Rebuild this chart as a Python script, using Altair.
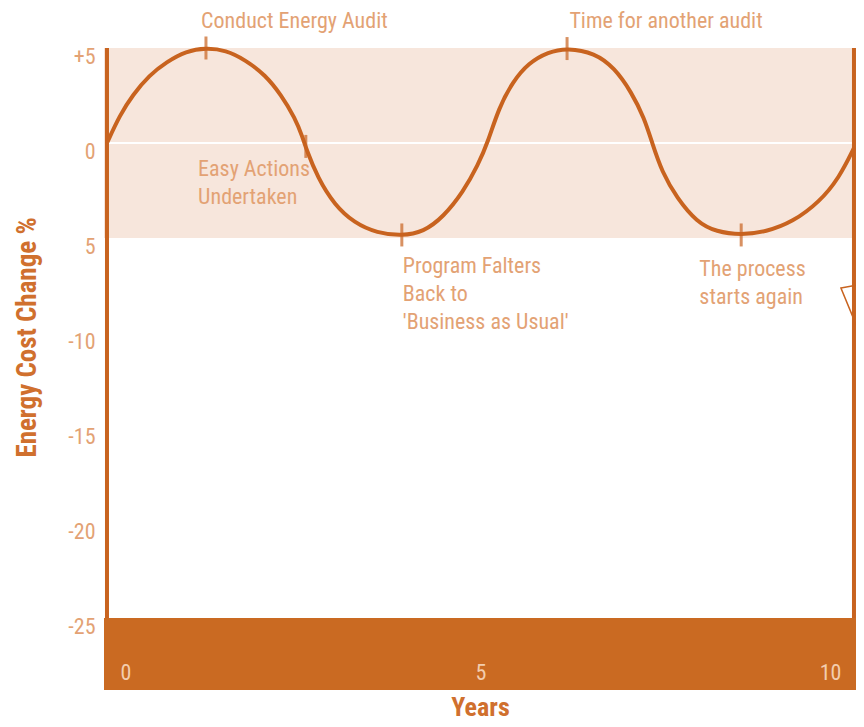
import altair as alt
import pandas as pd

# ---- data ----
curve_year = [0.0, 0.172, 0.344, 0.570, 0.795, 1.060, 1.325, 1.589, 1.854, 2.119, 2.331, 2.517,
              2.623, 2.662, 2.821, 3.046, 3.311, 3.616, 3.947, 4.238, 4.503, 4.768, 4.967, 5.099,
              5.245, 5.430, 5.642, 5.907, 6.159, 6.530, 6.795, 7.020, 7.192, 7.298, 7.430, 7.629,
              7.894, 8.159, 8.490, 8.821, 9.179, 9.536, 9.801, 10.0]
curve_value = [0.0, 1.47, 2.53, 3.58, 4.26, 4.84, 5.0, 4.89, 4.37, 3.58, 2.53, 1.32,
               0.26, -0.26, -1.84, -3.26, -4.21, -4.74, -4.89, -4.68, -3.89, -2.58, -1.16, 0.05,
               1.84, 3.21, 4.21, 4.79, 5.0, 4.74, 3.95, 2.68, 1.32, 0.0, -1.53, -2.89,
               -4.16, -4.68, -4.84, -4.68, -4.16, -3.11, -1.84, -0.26]

marker_year = [1.325, 2.662, 3.947, 6.159, 8.490]
marker_value = [5.0, -0.18, -4.84, 4.97, -4.84]

ann_text = ["Conduct Energy Audit", "Easy Actions\nUndertaken",
            "Program Falters\nBack to\n'Business as Usual'", "Time for another audit",
            "The process\nstarts again"]
ann_year = [1.26, 1.22, 3.96, 6.19, 7.93]
ann_value = [6.93, -0.86, -5.97, 6.93, -6.13]

y_ticks = [5, 0, -5, -10, -15, -20, -25]
x_ticks = [0, 5, 10]

band_range = [5, -5]          # shaded target band
floor_range = [-25, -28.79]   # solid base strip
frame_years = [0, 10]

# ---- styling ----
FONT = "Liberation Sans Narrow, Arial Narrow, Roboto Condensed, Roboto, sans-serif"
ORANGE = "#C8631F"
DARK = "#CA6A22"
BAND = "#F7E6DC"
LABEL = "#E3A274"
TITLE = "#D0702E"

XMIN, XMAX = -0.040, 10.027
xs = alt.Scale(domain=[XMIN, XMAX], nice=False, zero=False)
ys = alt.Scale(domain=[-28.79, 7.105], nice=False, zero=False)

x_axis = alt.Axis(values=x_ticks, domain=False, ticks=False, tickSize=0, grid=False,
                  labelFlush=6, labelFlushOffset=-13, offset=-18, labelPadding=0,
                  labelBaseline="middle", labelFont=FONT, labelFontSize=22,
                  labelColor="#F3CDAE", zindex=2,
                  title="Years", titleFont=FONT, titleFontSize=26, titleFontWeight="bold",
                  titleColor=TITLE, titleX=376, titleY=35, titleAlign="center",
                  titleBaseline="middle")
y_axis = alt.Axis(values=y_ticks, domain=False, ticks=False, tickSize=0, grid=False,
                  labelExpr="datum.value == 5 ? '+5' : (datum.value == -5 ? '5' : '' + datum.value)",
                  labelPadding=9, labelBaseline="middle", labelOffset=9,
                  labelFont=FONT, labelFontSize=22, labelColor=LABEL,
                  title="Energy Cost Change %", titleFont=FONT, titleFontSize=27,
                  titleFontWeight="bold", titleColor=TITLE, titleAngle=270,
                  titleX=-77, titleY=329, titleAlign="center", titleBaseline="middle")


def X(field):
    return alt.X(field, type="quantitative", scale=xs, axis=x_axis)


def Y(field):
    return alt.Y(field, type="quantitative", scale=ys, axis=y_axis)


curve_df = pd.DataFrame({"year": curve_year, "value": curve_value})
marker_df = pd.DataFrame({"year": marker_year, "value": marker_value})
ann_df = pd.DataFrame({"year": ann_year, "value": ann_value, "text": ann_text})
band_df = pd.DataFrame({"x0": [XMIN], "x1": [XMAX], "y0": [band_range[0]], "y1": [band_range[1]]})
floor_df = pd.DataFrame({"x0": [XMIN], "x1": [XMAX], "y0": [floor_range[0]], "y1": [floor_range[1]]})
zero_df = pd.DataFrame({"x0": [0.02], "x1": [9.98], "y": [0]})
frame_df = pd.DataFrame({"x": frame_years, "y0": [5, 5], "y1": [-25, -25]})
tri_df = pd.DataFrame({"x": [9.946], "y": [-8.79]})

band = alt.Chart(band_df).mark_rect(color=BAND).encode(
    x=X("x0"), x2="x1:Q", y=Y("y0"), y2="y1:Q")

zero = alt.Chart(zero_df).mark_rule(color="white", strokeWidth=2).encode(
    x=X("x0"), x2="x1:Q", y=Y("y"))

floor = alt.Chart(floor_df).mark_rect(color=DARK).encode(
    x=X("x0"), x2="x1:Q", y=Y("y0"), y2="y1:Q")

tri = alt.Chart(tri_df).mark_point(
    shape="M -0.36 -0.88 L 0.32 -1 L 0.4 0.96 Z", size=2500, filled=True,
    fill="white", stroke=ORANGE, strokeWidth=1.5, opacity=1).encode(
    x=X("x"), y=Y("y"))

frame = alt.Chart(frame_df).mark_rule(color=ORANGE, strokeWidth=4).encode(
    x=X("x"), y=Y("y0"), y2="y1:Q")

curve = alt.Chart(curve_df).mark_line(color=ORANGE, strokeWidth=4, interpolate="basis").encode(
    x=X("year"), y=Y("value"))

markers = alt.Chart(marker_df).mark_tick(color=ORANGE, orient="vertical", size=23, thickness=3).encode(
    x=X("year"), y=Y("value"))

ann = alt.Chart(ann_df).mark_text(align="left", baseline="top", lineBreak="\n", lineHeight=28,
                                  font=FONT, fontSize=22, color=LABEL).encode(
    x=X("year"), y=Y("value"), text="text:N")

chart = alt.layer(band, zero, floor, tri, frame, curve, markers, ann).properties(
    width=752, height=682,
    autosize=alt.AutoSizeParams(type="none"),
    padding={"left": 96, "top": 0, "right": 0, "bottom": 30},
    background="white",
).configure_view(stroke=None)

chart.save("out.html", embed_options={"renderer": "svg", "actions": False})
